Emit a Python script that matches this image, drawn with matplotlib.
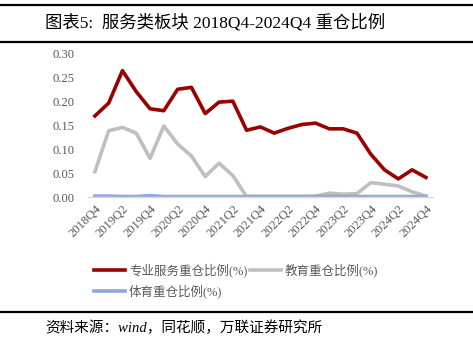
import numpy as np
import matplotlib.pyplot as plt

# 季度
quarters = ['2018Q4', '2019Q1', '2019Q2', '2019Q3', '2019Q4', '2020Q1', '2020Q2', '2020Q3',
            '2020Q4', '2021Q1', '2021Q2', '2021Q3', '2021Q4', '2022Q1', '2022Q2', '2022Q3',
            '2022Q4', '2023Q1', '2023Q2', '2023Q3', '2023Q4', '2024Q1', '2024Q2', '2024Q3',
            '2024Q4']

# 重仓比例(%)
zhuanye = [0.170, 0.197, 0.265, 0.221, 0.185, 0.181, 0.226, 0.230, 0.175, 0.199,
           0.201, 0.140, 0.147, 0.134, 0.144, 0.152, 0.155, 0.143, 0.143, 0.134,
           0.090, 0.057, 0.038, 0.057, 0.041]
jiaoyu = [0.053, 0.139, 0.146, 0.134, 0.081, 0.149, 0.111, 0.086, 0.043, 0.071,
          0.045, 0.001, 0.001, 0.001, 0.001, 0.001, 0.002, 0.008, 0.006, 0.007,
          0.030, 0.027, 0.023, 0.011, 0.002]
tiyu = [0.002, 0.002, 0.001, 0.001, 0.003, 0.001, 0.001, 0.001, 0.001, 0.001,
        0.001, 0.001, 0.001, 0.001, 0.001, 0.001, 0.001, 0.001, 0.001, 0.001,
        0.001, 0.001, 0.001, 0.001, 0.001]

names = ['专业服务重仓比例(%)', '教育重仓比例(%)', '体育重仓比例(%)']
colors = ['#990000', '#BFBFBF', '#8EA9DB']

serif_cn = ['Liberation Serif', 'Noto Sans CJK SC']
plt.rcParams['font.family'] = serif_cn

fig = plt.figure(figsize=(4.73, 3.46), dpi=100)
ax = fig.add_axes([0.186, 0.4306, 0.729, 0.4134])

x = np.arange(len(quarters))
l1, = ax.plot(x, zhuanye, color=colors[0], lw=2.6, label=names[0])
l2, = ax.plot(x, jiaoyu, color=colors[1], lw=2.6, label=names[1])
l3, = ax.plot(x, tiyu, color=colors[2], lw=2.6, label=names[2])

ax.set_xlim(-0.5, 24.5)
ax.set_ylim(0, 0.30)
ax.set_yticks(np.arange(0, 0.31, 0.05))
ax.set_yticklabels([f'{v:.2f}' for v in np.arange(0, 0.31, 0.05)])
ax.set_xticks(x[::2])
ax.set_xticklabels(quarters[::2], rotation=45, ha='right', rotation_mode='anchor')
ax.tick_params(axis='both', length=0, labelsize=9, labelcolor='#595959')
ax.tick_params(axis='x', pad=4)
ax.tick_params(axis='y', pad=10)
for s in ['top', 'right', 'left']:
    ax.spines[s].set_visible(False)
ax.spines['bottom'].set_color('#D9D9D9')
ax.spines['bottom'].set_linewidth(1)
ax.set_zorder(2)

leg = fig.legend([l1, l3, l2], [names[0], names[2], names[1]], ncol=2,
                 loc='upper left', bbox_to_anchor=(0.175, 0.27), frameon=False,
                 fontsize=9, handlelength=2.5, handletextpad=0.3, columnspacing=0.2,
                 labelspacing=0.55, labelcolor='#595959')

# 标题和来源
fig.add_artist(plt.Line2D([0, 1], [1 - 5 / 346, 1 - 5 / 346], color='black', lw=1.6))
fig.add_artist(plt.Line2D([0, 1], [1 - 42 / 346, 1 - 42 / 346], color='black', lw=1.6))
fig.text(45 / 473, 1 - 23 / 346, '图表5:  服务类板块 2018Q4-2024Q4 重仓比例',
         fontsize=12.5, va='center', ha='left')
fig.add_artist(plt.Line2D([0, 1], [1 - 312 / 346, 1 - 312 / 346], color='black', lw=1.6))
fig.text(45 / 473, 1 - 328 / 346, '资料来源：wind，同花顺，万联证券研究所',
         fontsize=10.5, va='center', ha='left', style='italic')

fig.savefig('out.png', dpi=100)
